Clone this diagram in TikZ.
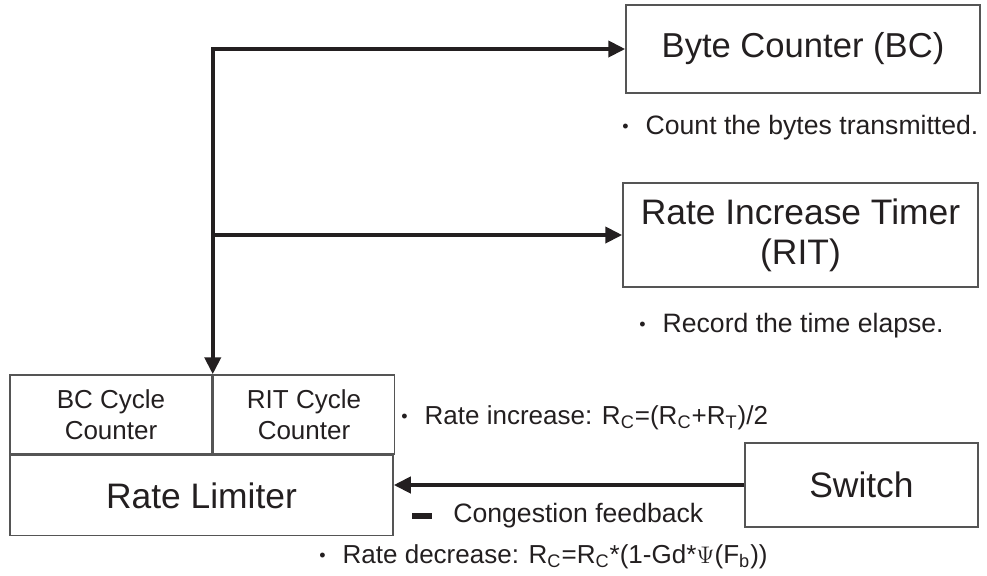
\documentclass[tikz,border=0pt]{standalone}
\usepackage{fontspec}
\setmainfont{Liberation Sans}
\usetikzlibrary{positioning,arrows.meta}

\definecolor{ink}{RGB}{35,31,32}
\definecolor{edge}{RGB}{85,85,85}

\newcommand{\bul}{{\fontsize{9}{9}\selectfont\raisebox{1pt}{\textbullet}}\hspace{8.5pt}}

\tikzset{
	box/.style = {draw=edge, line width=0.75pt, inner sep=0pt, text=ink, align=center, font=\fontsize{17.7}{20}\selectfont},
	cell/.style = {box, font=\fontsize{13}{15.5}\selectfont, minimum height=39.5pt},
	note/.style = {anchor=base west, inner sep=0pt, text=ink, font=\fontsize{13.3}{16}\selectfont},
	bus/.style = {line width=2pt, draw=ink, -{Triangle[length=8.5pt,width=8pt]}},
}

\begin{document}
\begin{tikzpicture}[x=0.5pt, y=-0.5pt, node distance=0pt]

	\useasboundingbox (0,0) rectangle (987,575);

	% blocks
	\node[box, minimum width=177pt, minimum height=44pt, font=\fontsize{17.3}{20}\selectfont] (bc) at (803,49) {Byte Counter (BC)};
	\node[box, minimum width=177.5pt, minimum height=52pt] (rit) at (800.5,235) {Rate Increase Timer\\(RIT)};
	\node[cell, minimum width=101pt] (bcc) at (111,414.5) {BC Cycle\\Counter};
	\node[cell, minimum width=90.5pt, right=of bcc] (ritc) {RIT Cycle\\Counter};
	\node[box, minimum width=191.5pt, minimum height=40pt, anchor=north west] (lim) at (bcc.south west) {Rate Limiter};
	\node[box, minimum width=116.5pt, minimum height=42pt] (sw) at (861.5,485) {Switch};

	% notes
	\node[note] (bcnote) at (622,134) {\bul Count the bytes transmitted.};
	\node[note] (ritnote) at (639,332) {\bul Record the time elapse.};
	\node[note, font=\fontsize{13}{16}\selectfont] (incnote) at (401,424) {\bul Rate increase: R\textsubscript{C}=(R\textsubscript{C}+R\textsubscript{T})/2};
	\node[note] (fbnote) at (412,522) {\rule[1.5pt]{10pt}{2.8pt}\hspace{10.5pt}Congestion feedback};
	\node[note, font=\fontsize{13}{16}\selectfont] (decnote) at (319,563) {\bul Rate decrease: R\textsubscript{C}=R\textsubscript{C}*(1-Gd*$\Psi$(F\textsubscript{b}))};

	% connectors
	\draw[bus, {Triangle[length=8.5pt,width=8pt]}-{Triangle[length=8.5pt,width=8pt]}] (bcc.north east) |- (bc.west);
	\draw[bus] (bcc.north east |- rit.west) -- (rit.west);
	\draw[bus] (sw.west) -- (lim.east |- sw.west);

\end{tikzpicture}
\end{document}
